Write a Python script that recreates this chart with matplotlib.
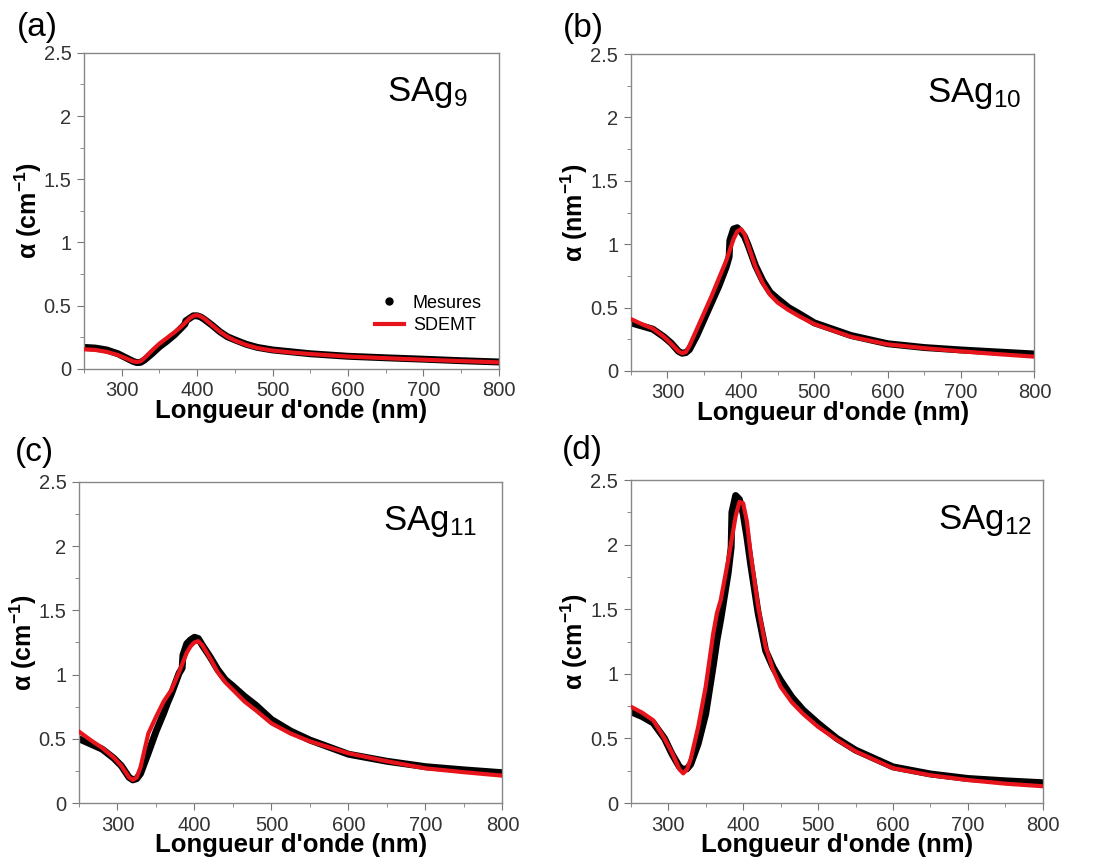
import matplotlib
matplotlib.use("Agg")
import matplotlib.pyplot as plt
from matplotlib.lines import Line2D
from matplotlib.ticker import MultipleLocator

plt.rcParams['font.family'] = ['Liberation Sans', 'DejaVu Sans']
plt.rcParams['mathtext.default'] = 'regular'

# longueurs d'onde (nm)
wl_fit = [250, 265, 280, 295, 305, 315, 320, 325, 330, 340, 350, 360, 365, 370, 380,
          390, 395, 400, 405, 410, 420, 430, 440, 450, 465, 480, 500, 525, 550, 600,
          650, 700, 750, 800]
wl_mes = [250, 265, 280, 295, 305, 315, 320, 325, 330, 340, 350, 360, 365, 370, 380,
          384, 385, 390, 395, 400, 405, 410, 420, 430, 440, 450, 465, 480, 500, 525,
          550, 600, 650, 700, 750, 800]

# SAg9
mes_a = [.17, .165, .15, .12, .09, .06, .05, .052, .07, .12, .175, .22, .245, .27, .33,
         .355, .38, .40, .42, .42, .41, .39, .345, .295, .255, .23, .195, .17, .15, .135,
         .12, .10, .088, .077, .065, .055]
fit_a = [.155, .15, .135, .11, .085, .06, .055, .06, .085, .145, .20, .245, .268, .29, .34,
         .40, .42, .425, .415, .395, .345, .295, .255, .225, .19, .165, .145, .13, .118, .098,
         .085, .073, .062, .052]
# SAg10
mes_b = [.38, .355, .33, .27, .22, .155, .14, .145, .17, .28, .41, .54, .605, .67, .82,
         .90, 1.03, 1.12, 1.13, 1.10, 1.06, .99, .83, .71, .62, .57, .50, .45, .38, .33,
         .28, .215, .185, .166, .15, .134]
fit_b = [.41, .37, .335, .27, .215, .155, .14, .15, .20, .33, .46, .59, .66, .73, .87,
         1.04, 1.10, 1.12, 1.08, .99, .82, .69, .60, .54, .48, .43, .37, .32, .27, .21,
         .18, .155, .133, .113]
# SAg11
mes_c = [.50, .46, .42, .35, .29, .20, .18, .19, .23, .39, .556, .70, .78, .85, 1.01,
         1.05, 1.15, 1.24, 1.27, 1.29, 1.28, 1.23, 1.14, 1.04, .96, .91, .83, .76, .65, .56,
         .49, .38, .325, .283, .258, .236]
fit_c = [.556, .49, .43, .355, .29, .20, .18, .20, .28, .54, .67, .79, .835, .88, 1.02,
         1.17, 1.22, 1.25, 1.26, 1.23, 1.13, 1.02, .94, .88, .79, .72, .62, .54, .48, .387,
         .325, .27, .24, .213]
# SAg12
mes_d = [.707, .67, .62, .50, .38, .28, .26, .265, .30, .46, .69, 1.06, 1.26, 1.42, 1.78,
         1.98, 2.25, 2.38, 2.35, 2.24, 2.06, 1.85, 1.47, 1.18, 1.05, .95, .82, .72, .617, .50,
         .41, .28, .225, .19, .172, .157]
fit_d = [.746, .70, .64, .50, .39, .26, .23, .26, .34, .59, .90, 1.31, 1.47, 1.57, 1.88,
         2.22, 2.33, 2.32, 2.18, 1.93, 1.52, 1.21, 1.03, .90, .78, .69, .59, .49, .40, .27,
         .215, .178, .15, .13]

panels = [
    ('(a)', 'SAg$_{9}$', 'α (cm$^{-1}$)', mes_a, fit_a, [0.0766, 0.574, 0.378, 0.365], 0.925, (-0.161, 1.079)),
    ('(b)', 'SAg$_{10}$', 'α (nm$^{-1}$)', mes_b, fit_b, [0.575, 0.5716, 0.368, 0.366], 0.968, (-0.168, 1.079)),
    ('(c)', 'SAg$_{11}$', 'α (cm$^{-1}$)', mes_c, fit_c, [0.072, 0.0727, 0.386, 0.371], 0.94, (-0.151, 1.09)),
    ('(d)', 'SAg$_{12}$', 'α (cm$^{-1}$)', mes_d, fit_d, [0.575, 0.0727, 0.3756, 0.373], 0.973, (-0.167, 1.09)),
]

fig = plt.figure(figsize=(10.97, 8.66), dpi=100)

for i, (lab, name, ylab, mes, fit, pos, xr, lpos) in enumerate(panels):
    ax = fig.add_axes(pos)
    ax.plot(wl_mes, mes, color='black', lw=5, solid_capstyle='round', zorder=2)
    ax.plot(wl_fit, fit, color='#e8141c', lw=3, zorder=3)

    ax.set_xlim(250, 800)
    ax.set_ylim(0, 2.5)
    ax.xaxis.set_minor_locator(MultipleLocator(50))
    ax.yaxis.set_minor_locator(MultipleLocator(0.25))
    ax.set_xticks([300, 400, 500, 600, 700, 800])
    ax.set_yticks([0, 0.5, 1, 1.5, 2, 2.5])
    ax.set_yticklabels(['0', '0.5', '1', '1.5', '2', '2.5'])
    ax.tick_params(which='both', direction='out', color='#777777', labelcolor='#333333',
                   labelsize=14.5, top=False, right=False)
    ax.tick_params(which='major', length=5, pad=4)
    ax.tick_params(which='minor', length=3)
    for sp in ax.spines.values():
        sp.set_color('#888888')
        sp.set_linewidth(1)

    ax.set_xlabel("Longueur d'onde (nm)", fontsize=18.5, fontweight='bold', labelpad=-1)
    ax.set_ylabel(ylab, fontsize=18, fontweight='bold', labelpad=0)

    ax.text(xr, 0.93, name, transform=ax.transAxes, ha='right', va='top', fontsize=25)
    ax.text(lpos[0], lpos[1], lab, transform=ax.transAxes, ha='left', va='center', fontsize=24)

    if i == 0:
        h = [Line2D([], [], ls='none', marker='o', color='black', ms=5),
             Line2D([], [], color='#e8141c', lw=3)]
        ax.legend(h, ['Mesures', 'SDEMT'], loc='lower right', bbox_to_anchor=(0.99, 0.07),
                  frameon=False, fontsize=13, handlelength=1.6, handletextpad=0.5,
                  borderpad=0.2, labelspacing=0.3)

fig.savefig('out.png', dpi=100)
